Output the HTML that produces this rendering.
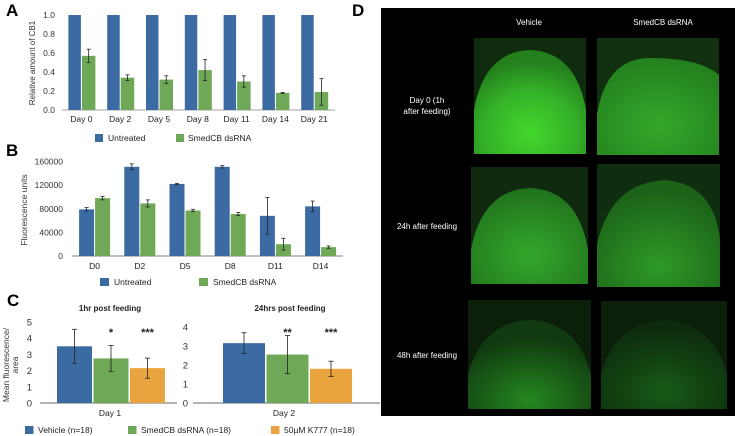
<!DOCTYPE html>
<html><head><meta charset="utf-8">
<style>
html,body{margin:0;padding:0;background:#fff;width:735px;height:436px;overflow:hidden;}
svg{display:block;font-family:"Liberation Sans",Arial,sans-serif;}
</style></head>
<body>
<svg id="fig" width="735" height="436" viewBox="0 0 735 436" xmlns="http://www.w3.org/2000/svg">
<defs>
<radialGradient id="g1" cx="50%" cy="80%" r="70%"><stop offset="0" stop-color="#44d82c"/><stop offset="0.6" stop-color="#34b028"/><stop offset="1" stop-color="#23801c"/></radialGradient>
<radialGradient id="g2" cx="50%" cy="70%" r="70%"><stop offset="0" stop-color="#34a82a"/><stop offset="1" stop-color="#23801e"/></radialGradient>
<radialGradient id="g3" cx="50%" cy="70%" r="70%"><stop offset="0" stop-color="#33a82b"/><stop offset="1" stop-color="#20721c"/></radialGradient>
<radialGradient id="g4" cx="50%" cy="80%" r="70%"><stop offset="0" stop-color="#2e9a26"/><stop offset="1" stop-color="#1c6219"/></radialGradient>
<radialGradient id="g5" cx="50%" cy="90%" r="70%"><stop offset="0" stop-color="#24881f"/><stop offset="1" stop-color="#113a10"/></radialGradient>
<radialGradient id="g6" cx="50%" cy="80%" r="70%"><stop offset="0" stop-color="#175a16"/><stop offset="1" stop-color="#0d2c0d"/></radialGradient>
</defs>

<text x="6" y="16" font-size="17" font-weight="bold">A</text>
<text x="6" y="156" font-size="17" font-weight="bold">B</text>
<text x="7" y="306" font-size="17" font-weight="bold">C</text>
<text x="352" y="16" font-size="17" font-weight="bold">D</text>

<g>
<rect x="381" y="8" width="354" height="408" fill="#000"/>
<text x="529" y="25" font-size="8" fill="#fff" text-anchor="middle">Vehicle</text>
<text x="663" y="25" font-size="8" fill="#fff" text-anchor="middle">SmedCB dsRNA</text>
<text x="427" y="103" font-size="8" fill="#fff" text-anchor="middle">Day 0 (1h</text>
<text x="427" y="114" font-size="8" fill="#fff" text-anchor="middle">after feeding)</text>
<text x="427" y="229" font-size="8" fill="#fff" text-anchor="middle">24h after feeding</text>
<text x="427" y="358" font-size="8" fill="#fff" text-anchor="middle">48h after feeding</text>

<g><rect x="474" y="38" width="112" height="116" fill="#0f2c0f"/><path d="M474,154 L474,110 Q484,52 530,50 Q576,52 586,110 L586,154 Z" fill="url(#g1)"/></g>
<g><rect x="597" y="38" width="122" height="117" fill="#103010"/><path d="M597,155 L597,115 Q606,58 650,58 Q700,58 719,75 L719,155 Z" fill="url(#g2)"/></g>
<g><rect x="471" y="167" width="117" height="117" fill="#0f2a0f"/><path d="M471,284 L471,250 Q482,190 530,188 Q578,190 588,250 L588,284 Z" fill="url(#g3)"/></g>
<g><rect x="597" y="164" width="123" height="123" fill="#0f2e0f"/><path d="M597,287 L597,245 Q610,183 665,180 Q714,184 720,240 L720,287 Z" fill="url(#g4)"/></g>
<g><rect x="468" y="300" width="123" height="109" fill="#0b1f0b"/><path d="M468,409 L468,375 Q482,322 530,320 Q578,322 591,375 L591,409 Z" fill="url(#g5)"/></g>
<g><rect x="601" y="301" width="126" height="108" fill="#0b1f0b"/><path d="M601,409 L601,375 Q615,322 664,320 Q713,322 727,375 L727,409 Z" fill="url(#g6)"/></g>
</g>

<g id="charts"></g>
</svg>

<script>
const aCategories = ["Day 0","Day 2","Day 5","Day 8","Day 11","Day 14","Day 21"];
const aUntreated = [1,1,1,1,1,1,1];
const aDsRNA = [0.57,0.34,0.32,0.42,0.30,0.18,0.19];
const aDsRNAErr = [0.07,0.03,0.04,0.11,0.06,0.005,0.14];
const aTicks = ["0.0","0.2","0.4","0.6","0.8","1.0"];

const bCategories = ["D0","D2","D5","D8","D11","D14"];
const bUntreated = [79000,151000,122000,151000,68000,84000];
const bUntreatedErr = [3000,5000,1000,2000,31000,9000];
const bDsRNA = [98000,89000,77000,71000,20000,15000];
const bDsRNAErr = [3000,6000,2000,2500,10000,2000];
const bTicks = [0,40000,80000,120000,160000];

const c1Values = [3.5,2.75,2.15];
const c1Err = [1.05,0.8,0.62];
const c1Stars = ["","*","***"];
const c1Ticks = [0,1,2,3,4,5];
const c2Values = [3.15,2.55,1.8];
const c2Err = [0.55,1.0,0.4];
const c2Stars = ["","**","***"];
const c2Ticks = [0,1,2,3,4];

const BLUE="#3c6ba3", GREEN="#6fa856", ORANGE="#e9a43f";
const NS="http://www.w3.org/2000/svg";
const root=document.getElementById("charts");
function el(tag,attrs,parent,text){const e=document.createElementNS(NS,tag);for(const k in attrs)e.setAttribute(k,attrs[k]);if(text!==undefined)e.textContent=text;(parent||root).appendChild(e);return e;}
function errBar(g,x,y1,y2,w){
  const l=el("line",{x1:x,x2:x,y1:y1,y2:y2,stroke:"#222","stroke-width":0.8},g);
  
  
  el("line",{x1:x-w,x2:x+w,y1:y1,y2:y1,stroke:"#222","stroke-width":0.8},g);
  el("line",{x1:x-w,x2:x+w,y1:y2,y2:y2,stroke:"#222","stroke-width":0.8},g);
}

(function(){
  const g=el("g",{});
  
  
  const y=v=>110-v*95, x0=62, step=38.8, bw=12.5;
  aTicks.forEach(t=>{const tx=el("text",{x:55,y:y(+t)+3,"font-size":8.5,"text-anchor":"end",fill:"#333"},g,t);
    
    });
  const ax=el("line",{x1:62,x2:335,y1:110,y2:110,stroke:"#888","stroke-width":0.8},g);
  
  
  const yt=el("text",{transform:"translate(35,63) rotate(-90)","font-size":8,"text-anchor":"middle",fill:"#333"},g,"Relative amount of CB1");
  
  
  aCategories.forEach((c,i)=>{
    const cx=x0+step*(i+0.5);
    const b=el("rect",{x:cx-bw-0.5,y:y(aUntreated[i]),width:bw,height:110-y(aUntreated[i]),fill:BLUE},g);
    
    
    const b2=el("rect",{x:cx+0.5,y:y(aDsRNA[i]),width:bw+1,height:110-y(aDsRNA[i]),fill:GREEN},g);
    
    
    errBar(g,cx+0.5+(bw+1)/2,y(aDsRNA[i]+aDsRNAErr[i]),y(aDsRNA[i]-aDsRNAErr[i]),2);
    const lt=el("text",{x:cx,y:122,"font-size":8.5,"text-anchor":"middle",fill:"#222"},g,c);
    
    
  });
  const l1=el("rect",{x:95,y:134,width:8,height:8,fill:BLUE},g);
  
  
  const l1t=el("text",{x:108,y:141,"font-size":8.5,fill:"#222"},g,"Untreated");
  
  
  const l2=el("rect",{x:176,y:134,width:8,height:8,fill:GREEN},g);
  
  
  const l2t=el("text",{x:188,y:141,"font-size":8.5,fill:"#222"},g,"SmedCB dsRNA");
  
  
})();

(function(){
  const g=el("g",{});
  
  
  const y=v=>256-v/160000*94.5, x0=72, step=45.2, bw=15;
  bTicks.forEach(t=>{const tx=el("text",{x:63,y:y(t)+3,"font-size":8.5,"text-anchor":"end",fill:"#333"},g,String(t));
    
    });
  const ax=el("line",{x1:72,x2:343,y1:256,y2:256,stroke:"#555","stroke-width":0.8},g);
  
  
  const yt=el("text",{transform:"translate(27,210) rotate(-90)","font-size":8.5,"text-anchor":"middle",fill:"#333"},g,"Fluorescence units");
  
  
  bCategories.forEach((c,i)=>{
    const cx=x0+step*(i+0.5);
    const b=el("rect",{x:cx-bw-0.5,y:y(bUntreated[i]),width:bw,height:256-y(bUntreated[i]),fill:BLUE},g);
    
    
    errBar(g,cx-0.5-bw/2,y(bUntreated[i]+bUntreatedErr[i]),y(bUntreated[i]-bUntreatedErr[i]),2);
    const b2=el("rect",{x:cx+0.5,y:y(bDsRNA[i]),width:bw,height:256-y(bDsRNA[i]),fill:GREEN},g);
    
    
    errBar(g,cx+0.5+bw/2,y(bDsRNA[i]+bDsRNAErr[i]),y(bDsRNA[i]-bDsRNAErr[i]),2);
    const lt=el("text",{x:cx,y:269,"font-size":8.5,"text-anchor":"middle",fill:"#222"},g,c);
    
    
  });
  const l1=el("rect",{x:100,y:278,width:9,height:8,fill:BLUE},g);
  
  
  const l1t=el("text",{x:114,y:285,"font-size":8.5,fill:"#222"},g,"Untreated");
  
  
  const l2=el("rect",{x:199,y:278,width:9,height:8,fill:GREEN},g);
  
  
  const l2t=el("text",{x:213,y:285,"font-size":8.5,fill:"#222"},g,"SmedCB dsRNA");
  
  
})();

function cChart(name,vals,errs,stars,ticks,unit,axX1,axX2,tickX,barX,bw,title,titleX,dayLabel,dayX){
  const g=el("g",{});
  
  
  const base=403, y=v=>base-v*unit, cols=[BLUE,GREEN,ORANGE];
  ticks.forEach(t=>{const tx=el("text",{x:tickX,y:y(t)+3.5,"font-size":9.5,"text-anchor":"end",fill:"#333"},g,String(t));
    
    });
  const ax=el("line",{x1:axX1,x2:axX2,y1:base,y2:base,stroke:"#333","stroke-width":0.8},g);
  
  
  vals.forEach((v,i)=>{
    const bx=barX+i*(bw+1.5);
    const b=el("rect",{x:bx,y:y(v),width:bw,height:base-y(v),fill:cols[i]},g);
    
    
    errBar(g,bx+bw/2,y(v+errs[i]),y(v-errs[i]),2.5);
    if(stars[i]){const s=el("text",{x:bx+bw/2,y:336,"font-size":11,"font-weight":"bold","text-anchor":"middle",fill:"#222"},g,stars[i]);
      
      }
  });
  const tt=el("text",{x:titleX,y:311,"font-size":8,"font-weight":"bold","text-anchor":"middle",fill:"#222"},g,title);
  
  
  const dl=el("text",{x:dayX,y:416,"font-size":8.5,"text-anchor":"middle",fill:"#222"},g,dayLabel);
  
  
}
cChart("chart-c-1hr",c1Values,c1Err,c1Stars,c1Ticks,16.2,40,177,32,57,35,"1hr post feeding",110,"Day 1",110);
cChart("chart-c-24hrs",c2Values,c2Err,c2Stars,c2Ticks,19,193,380,188,223,42,"24hrs post feeding",290,"Day 2",284);
(function(){
  const g=el("g",{});
  
  
  const yt=el("text",{transform:"translate(9,365) rotate(-90)","font-size":8.5,"text-anchor":"middle",fill:"#333"},g,"Mean fluorescence/");
  
  
  const yt2=el("text",{transform:"translate(18,365) rotate(-90)","font-size":8.5,"text-anchor":"middle",fill:"#333"},g,"area");
  
  
  const items=[[25,BLUE,"Vehicle (n=18)"],[128,GREEN,"SmedCB dsRNA (n=18)"],[271,ORANGE,"50µM K777 (n=18)"]];
  items.forEach(it=>{
    const r=el("rect",{x:it[0],y:426,width:8.5,height:8,fill:it[1]},g);
    
    
    const t=el("text",{x:it[0]+13,y:433,"font-size":8.5,fill:"#222"},g,it[2]);
    
    
  });
})();
</script>
</body></html>
